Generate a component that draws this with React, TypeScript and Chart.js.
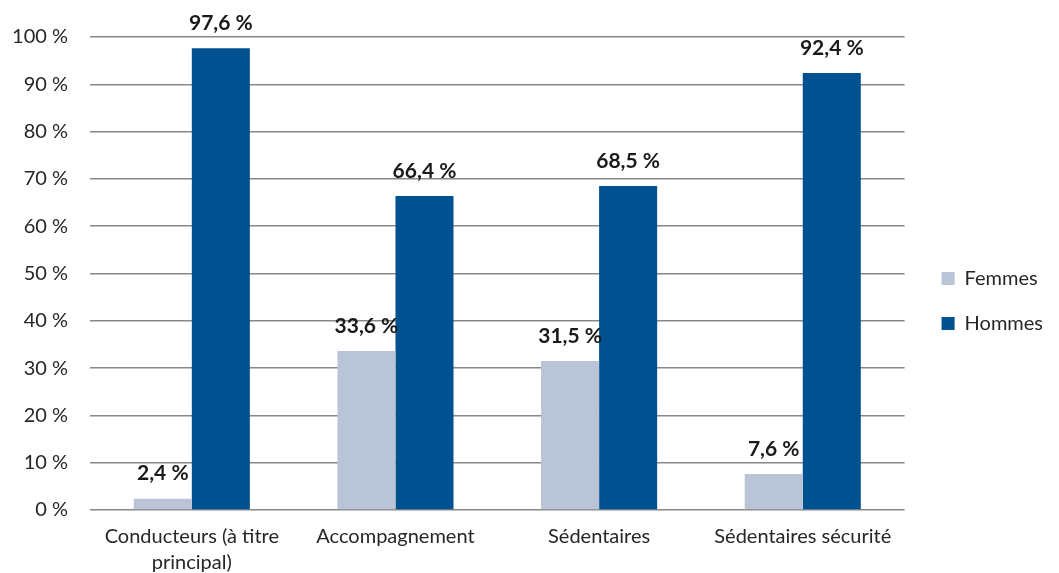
import { useEffect, useRef } from "react";
import { Chart, registerables } from "chart.js";

Chart.register(...registerables);

const categories: (string | string[])[] = [
  ["Conducteurs (à titre", "principal)"],
  "Accompagnement",
  "Sédentaires",
  "Sédentaires sécurité",
];
const seriesNames = ["Femmes", "Hommes"];
const femmes = [2.4, 33.6, 31.5, 7.6];
const hommes = [97.6, 66.4, 68.5, 92.4];
const seriesColors = ["#B9C5D6", "#00518F"];

const FONT = "Lato, 'Open Sans', sans-serif";

const fmt = (v: number) => v.toFixed(1).replace(".", ",") + " %";

const barLabels = {
  id: "barLabels",
  afterDatasetsDraw(chart: any) {
    const ctx = chart.ctx;
    ctx.save();
    ctx.font = `bold 21px ${FONT}`;
    ctx.fillStyle = "#1a1a1a";
    ctx.textAlign = "center";
    ctx.textBaseline = "middle";
    chart.data.datasets.forEach((ds: any, i: number) => {
      const meta = chart.getDatasetMeta(i);
      meta.data.forEach((bar: any, j: number) => {
        ctx.fillText(fmt(ds.data[j]), bar.x, bar.y - 25);
      });
    });
    ctx.restore();
  },
};

const legendShift = {
  id: "legendShift",
  afterLayout(chart: any) {
    if (chart.legend) {
      chart.legend.left += 12;
      chart.legend.right += 12;
      chart.legend.top -= 4;
      chart.legend.bottom -= 4;
    }
  },
};

export default function App() {
  const ref = useRef<HTMLCanvasElement>(null);
  useEffect(() => {
    document.body.style.margin = "0";
    const chart = new Chart(ref.current!, {
      type: "bar",
      data: {
        labels: categories,
        datasets: [
          { label: seriesNames[0], data: femmes, backgroundColor: seriesColors[0] },
          { label: seriesNames[1], data: hommes, backgroundColor: seriesColors[1] },
        ],
      },
      options: {
        animation: false,
        responsive: false,
        maintainAspectRatio: false,
        layout: { padding: { top: 37, left: 0, right: 18, bottom: 0 } },
        datasets: { bar: { categoryPercentage: 0.57, barPercentage: 1.0 } },
        scales: {
          x: {
            grid: { display: false },
            border: { display: false },
            ticks: {
              color: "#262626",
              font: { family: FONT, size: 20, lineHeight: 1.3 },
              padding: 6,
              maxRotation: 0,
              autoSkip: false,
            },
            afterFit: (scale: any) => {
              scale.height = 63;
            },
          },
          y: {
            min: 0,
            max: 100,
            border: { display: false },
            grid: { color: "#878787", lineWidth: 1.5, drawTicks: false },
            ticks: {
              stepSize: 10,
              color: "#262626",
              font: { family: FONT, size: 20 },
              padding: 22,
              callback: (v: any) => `${v} %`,
            },
            afterFit: (scale: any) => {
              scale.width = 90;
            },
          },
        },
        plugins: {
          tooltip: { enabled: false },
          legend: {
            position: "right",
            align: "center",
            labels: {
              boxWidth: 13,
              boxHeight: 13,
              padding: 25,
              color: "#262626",
              font: { family: FONT, size: 20 },
            },
          },
        },
      },
      plugins: [barLabels, legendShift],
    });
    return () => chart.destroy();
  }, []);
  return (
    <div style={{ width: 1059, height: 573 }}>
      <canvas ref={ref} width={1059} height={573} style={{ display: "block" }} />
    </div>
  );
}
